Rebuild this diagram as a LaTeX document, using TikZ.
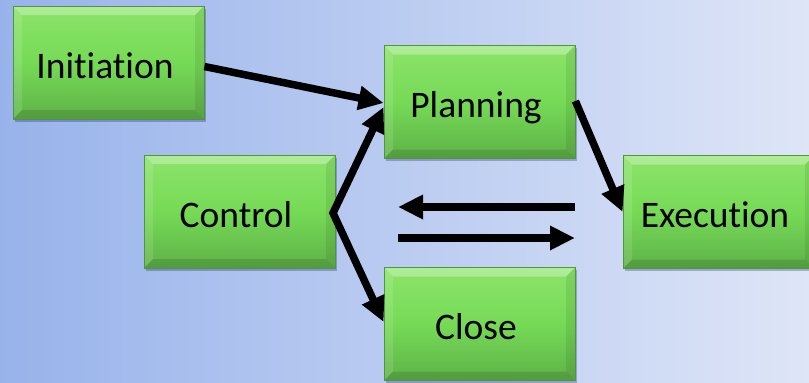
\documentclass[tikz,border=0pt]{standalone}
\usepackage{fontspec}
\setmainfont{Carlito}[Ligatures={NoCommon}]
\usetikzlibrary{arrows.meta,calc,shadows}
\definecolor{bgleft}{RGB}{152,179,235}
\definecolor{bgright}{RGB}{222,229,247}
\definecolor{gtop}{RGB}{140,228,106}
\definecolor{gmid}{RGB}{118,218,86}
\definecolor{gbot}{RGB}{94,178,72}
\definecolor{gline}{RGB}{80,150,62}
\tikzset{
  phase/.style={rectangle, minimum width=191pt, minimum height=113pt, inner sep=0pt,
    draw=gline, line width=0.8pt, top color=gtop, bottom color=gbot, middle color=gmid,
    font=\fontsize{37.5}{40}\selectfont, text=black, text height=35pt, text depth=4pt,
    execute at end node={\kern7pt},
    drop shadow={shadow xshift=1.5pt, shadow yshift=-2.5pt, opacity=0.25, fill=black!60!blue},
    path picture={
      \coordinate (pnw) at (path picture bounding box.north west);
      \coordinate (pne) at (path picture bounding box.north east);
      \coordinate (psw) at (path picture bounding box.south west);
      \coordinate (pse) at (path picture bounding box.south east);
      \fill[white,opacity=0.3] (pnw) -- (pne) -- ($(pne)+(-9pt,-9pt)$) -- ($(pnw)+(9pt,-9pt)$) -- cycle;
      \fill[white,opacity=0.12] (pnw) -- ($(pnw)+(9pt,-9pt)$) -- ($(psw)+(9pt,9pt)$) -- (psw) -- cycle;
      \fill[black,opacity=0.08] (pne) -- ($(pne)+(-9pt,-9pt)$) -- ($(pse)+(-9pt,9pt)$) -- (pse) -- cycle;
      \fill[black,opacity=0.12] (psw) -- ($(psw)+(9pt,9pt)$) -- ($(pse)+(-9pt,9pt)$) -- (pse) -- cycle;
    }},
  arr/.style={line width=7.5pt, -{Triangle[length=25pt,width=23pt]}, miter limit=10},
  darr/.style={line width=7.5pt, {Triangle[length=25pt,width=23pt]}-{Triangle[length=25pt,width=23pt]}, miter limit=10}
}
\begin{document}
\begin{tikzpicture}[x=1pt,y=-1pt]
\useasboundingbox (0,0) rectangle (809,383);
\shade[left color=bgleft, right color=bgright] (0,0) rectangle (809,383);
\begin{scope}
\clip (0,0) rectangle (809,383);
\node[phase] (init) at (108.5,62.5) {Initiation};
\node[phase] (plan) at (479.5,102) {Planning};
\node[phase] (ctrl) at (239.5,211.5) {Control};
\node[phase] (exec) at (718.5,212) {Execution};
\node[phase] (close) at (479.5,324) {Close};
\end{scope}
\coordinate (fork) at (333,213);
\coordinate (la) at (575,207);
\coordinate (lb) at (398,207);
\coordinate (ra) at (398,238);
\coordinate (rb) at (575,238);
\draw[arr] ([yshift=-4pt]init.east) -- ([yshift=-1pt]plan.west);
\draw[darr] ([yshift=-5pt]plan.west) -- (fork) -- ([yshift=2pt]close.west);
\draw[arr] ([yshift=1pt]plan.east) -- (exec.west);
\draw[arr] (la) -- (lb);
\draw[arr] (ra) -- (rb);
\end{tikzpicture}
\end{document}
